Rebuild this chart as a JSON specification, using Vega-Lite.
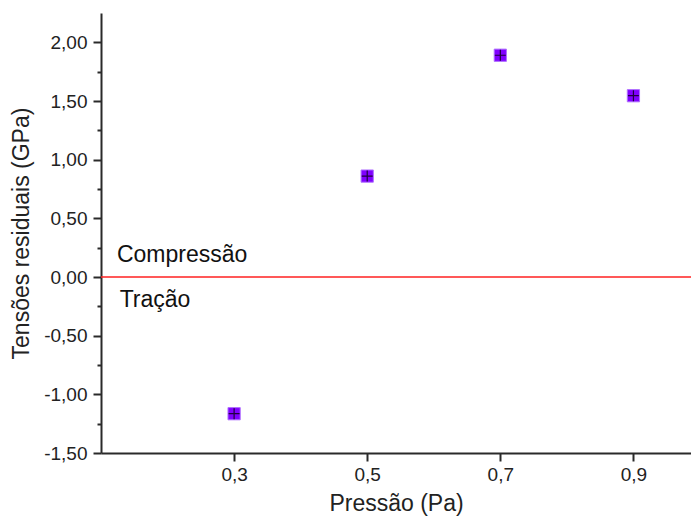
{
  "$schema": "https://vega.github.io/schema/vega-lite/v6.json",
  "width": 590,
  "height": 440,
  "autosize": {"type": "none"},
  "padding": {"left": 101, "top": 13, "right": 0, "bottom": 71},
  "background": "white",
  "config": {
    "view": {"stroke": null},
    "font": "Liberation Sans"
  },
  "datasets": {
    "pts": [
      {"p": 0.3, "t": -1.165},
      {"p": 0.5, "t": 0.86},
      {"p": 0.7, "t": 1.89},
      {"p": 0.9, "t": 1.545}
    ],
    "labels": [
      {"p": 0.124, "t": 0.19, "label": "Compressão"},
      {"p": 0.128, "t": -0.2, "label": "Tração"}
    ],
    "zero": [{"t": 0}]
  },
  "resolve": {"axis": {"y": "independent"}},
  "layer": [
    {
      "data": {"name": "zero"},
      "mark": {"type": "rule", "color": "#ff2020", "strokeWidth": 1.5},
      "encoding": {
        "y": {"field": "t", "type": "quantitative", "scale": {"domain": [-1.5, 2.25], "nice": false, "zero": false},
          "axis": {"orient": "left", "values": [-1.25, -0.75, -0.25, 0.25, 0.75, 1.25, 1.75], "labels": false, "tickSize": 4, "tickWidth": 2, "tickColor": "#2a2a2a", "domain": false, "grid": false, "title": null}}
      }
    },
    {
      "data": {"name": "pts"},
      "mark": {"type": "square", "size": 150, "filled": true, "color": "#8000ff", "stroke": "#b070ff", "strokeWidth": 1, "opacity": 1},
      "encoding": {
        "x": {"field": "p", "type": "quantitative", "scale": {"domain": [0.1, 0.9865], "nice": false, "zero": false},
          "axis": {"values": [0.3, 0.5, 0.7, 0.9], "labelExpr": "replace(format(datum.value, '.1f'), '.', ',')", "grid": false, "domainColor": "#2a2a2a", "domainWidth": 2, "tickColor": "#2a2a2a", "tickWidth": 2, "tickSize": 8, "labelPadding": 4, "labelFontSize": 19, "labelColor": "#222", "labelFont": "Liberation Sans", "title": "Pressão (Pa)", "titleFont": "Liberation Sans", "titleFontSize": 23, "titleFontWeight": "normal", "titleColor": "#222", "titlePadding": 8}},
        "y": {"field": "t", "type": "quantitative", "scale": {"domain": [-1.5, 2.25], "nice": false, "zero": false},
          "axis": {"orient": "left", "values": [-1.5, -1, -0.5, 0, 0.5, 1, 1.5, 2], "labelExpr": "replace(replace(format(datum.value, '.2f'), '.', ','), '\u2212', '-')", "grid": false, "domainColor": "#2a2a2a", "domainWidth": 2, "tickColor": "#2a2a2a", "tickWidth": 2, "tickSize": 8, "labelPadding": 6, "labelFontSize": 19, "labelColor": "#222", "labelFont": "Liberation Sans", "title": "Tensões residuais (GPa)", "titleFont": "Liberation Sans", "titleFontSize": 23, "titleFontWeight": "normal", "titleColor": "#222", "titlePadding": 10}}
      }
    },
    {
      "data": {"name": "pts"},
      "mark": {"type": "point", "shape": "M-1,0L1,0M0,-1L0,1", "size": 120, "filled": false, "stroke": "#200040", "strokeWidth": 1.2, "opacity": 1},
      "encoding": {
        "x": {"field": "p", "type": "quantitative"},
        "y": {"field": "t", "type": "quantitative", "axis": null}
      }
    },
    {
      "data": {"name": "labels"},
      "mark": {"type": "text", "align": "left", "baseline": "middle", "fontSize": 23, "color": "#111", "font": "Liberation Sans"},
      "encoding": {
        "x": {"field": "p", "type": "quantitative"},
        "y": {"field": "t", "type": "quantitative", "axis": null},
        "text": {"field": "label"}
      }
    }
  ]
}
